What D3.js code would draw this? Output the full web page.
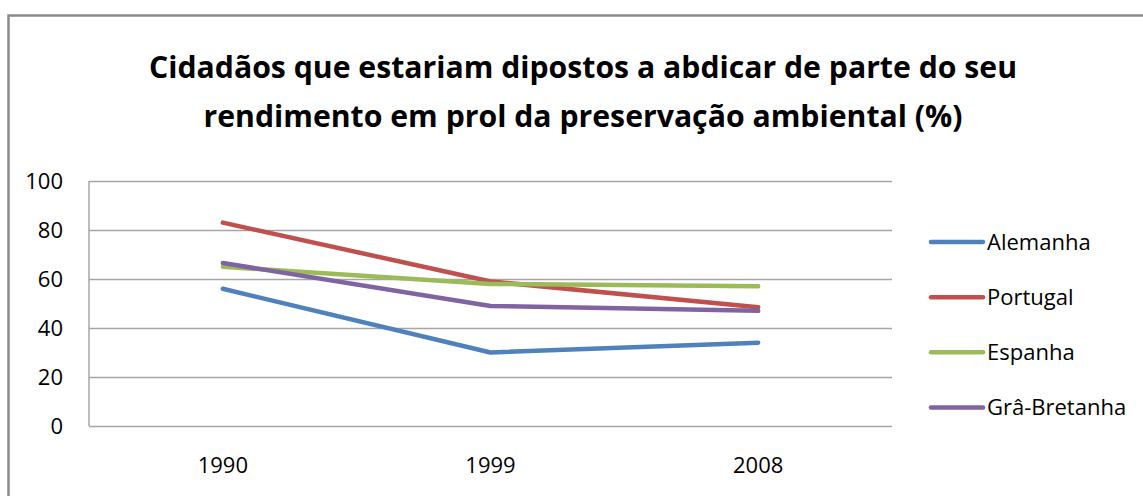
<!DOCTYPE html>
<html>
<head>
<meta charset="utf-8">
<script src="https://cdn.jsdelivr.net/npm/d3@7"></script>
<style>
  html, body { margin: 0; padding: 0; background: #fff; }
  svg { display: block; }
  text { font-family: "Open Sans", "Noto Sans", sans-serif; fill: #000; }
</style>
</head>
<body>
<svg id="chart" width="1143" height="496"></svg>
<script>
const titleLines = ["Cidadãos que estariam dipostos a abdicar de parte do seu",
                    "rendimento em prol da preservação ambiental (%)"];
const years = ["1990", "1999", "2008"];
const seriesNames = ["Alemanha", "Portugal", "Espanha", "Grâ-Bretanha"];
const alemanha = [56, 30, 34];
const portugal = [83, 59, 48.5];
const espanha = [65, 58, 57];
const graBretanha = [66.5, 49, 47];
const yTicks = [0, 20, 40, 60, 80, 100];
const colors = ["#4F81BD", "#C0504D", "#9BBB59", "#8064A2"];

const seriesValues = [alemanha, portugal, espanha, graBretanha];

const svg = d3.select("#chart");

// outer frame
svg.append("rect")
  .attr("x", 8.5).attr("y", 15.5)
  .attr("width", 1200).attr("height", 600)
  .attr("fill", "none").attr("stroke", "#8a8a8a").attr("stroke-width", 2.5);

// title
const titleW = [868, 759];
svg.selectAll("text.title").data(titleLines).join("text")
  .attr("class", "title")
  .attr("x", 583)
  .attr("y", (d, i) => 78 + i * 49)
  .attr("text-anchor", "middle")
  .attr("font-size", 31)
  .attr("font-weight", "bold")
  .attr("textLength", (d, i) => titleW[i])
  .attr("lengthAdjust", "spacingAndGlyphs")
  .text(d => d);

const plot = {left: 89, right: 892, top: 181, bottom: 426};

const x = d3.scaleBand().domain(years).range([plot.left, plot.right]);
const y = d3.scaleLinear().domain([0, 100]).range([plot.bottom, plot.top]);

// gridlines
const yAxis = d3.axisLeft(y).tickValues(yTicks).tickSize(-(plot.right - plot.left)).tickPadding(26);
const gy = svg.append("g").attr("transform", `translate(${plot.left},0)`).call(yAxis);
gy.select(".domain").remove();
gy.selectAll(".tick line").attr("stroke", "#a6a6a6").attr("stroke-width", 1.5);
gy.selectAll(".tick text").attr("font-size", 22).attr("fill", "#000")
  .attr("font-family", "'Open Sans', sans-serif");

// vertical axis line
svg.append("line")
  .attr("x1", plot.left).attr("x2", plot.left)
  .attr("y1", y(100)).attr("y2", y(0))
  .attr("stroke", "#a6a6a6").attr("stroke-width", 1.5);

// x axis labels
const xAxis = d3.axisBottom(x).tickSize(0).tickPadding(31);
const gx = svg.append("g").attr("transform", `translate(0,${plot.bottom})`).call(xAxis);
gx.select(".domain").remove();
gx.selectAll(".tick text").attr("font-size", 22).attr("fill", "#000")
  .attr("font-family", "'Open Sans', sans-serif");

// lines
const line = d3.line()
  .x((d, i) => x(years[i]) + x.bandwidth() / 2)
  .y(d => y(d));

svg.selectAll("path.series").data(seriesValues).join("path")
  .attr("class", "series")
  .attr("d", d => line(d))
  .attr("fill", "none")
  .attr("stroke", (d, i) => colors[i])
  .attr("stroke-width", 4.5)
  .attr("stroke-linecap", "round")
  .attr("stroke-linejoin", "round");

// legend
const legend = svg.append("g");
const legY = d3.scalePoint().domain(seriesNames).range([242, 407.5]);
const items = legend.selectAll("g").data(seriesNames).join("g")
  .attr("transform", d => `translate(0,${legY(d)})`);
items.append("line")
  .attr("x1", 931).attr("x2", 983)
  .attr("stroke", (d, i) => colors[i])
  .attr("stroke-width", 4.5)
  .attr("stroke-linecap", "round");
items.append("text")
  .attr("x", 987).attr("y", 0).attr("dy", "0.36em")
  .attr("font-size", 22)
  .text(d => d);
</script>
</body>
</html>
